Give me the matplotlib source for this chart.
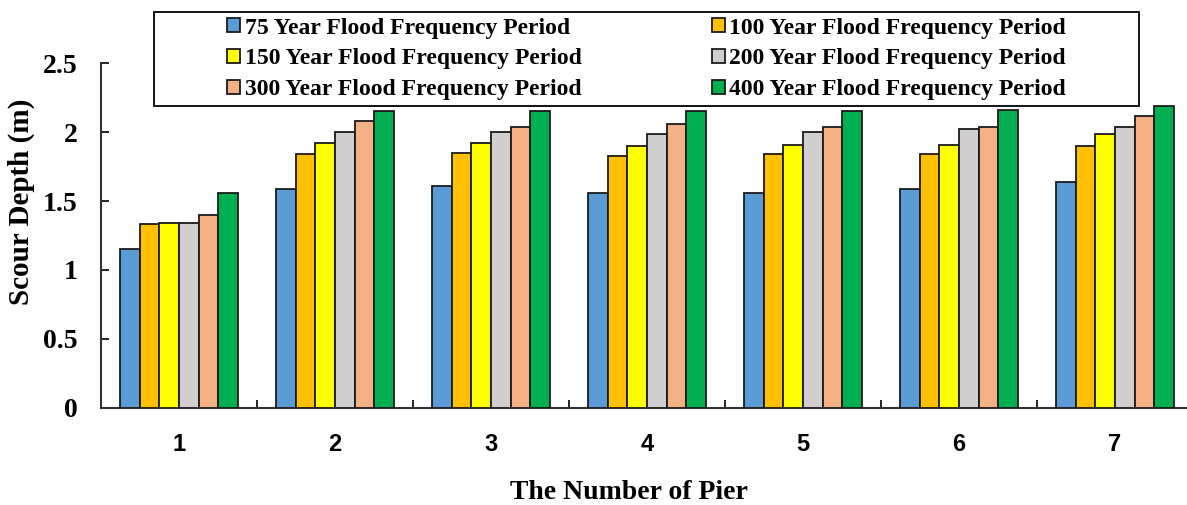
import numpy as np
import matplotlib
matplotlib.use('Agg')
import matplotlib.pyplot as plt
from matplotlib.patches import Rectangle

# pier numbers and scour depth (m) per flood frequency period
piers = ['1', '2', '3', '4', '5', '6', '7']
series_names = ['75 Year Flood Frequency Period', '100 Year Flood Frequency Period',
                '150 Year Flood Frequency Period', '200 Year Flood Frequency Period',
                '300 Year Flood Frequency Period', '400 Year Flood Frequency Period']
y75 = [1.15, 1.59, 1.61, 1.56, 1.56, 1.59, 1.64]
y100 = [1.33, 1.84, 1.85, 1.83, 1.84, 1.84, 1.90]
y150 = [1.34, 1.92, 1.92, 1.90, 1.91, 1.91, 1.99]
y200 = [1.34, 2.00, 2.00, 1.99, 2.00, 2.02, 2.04]
y300 = [1.40, 2.08, 2.04, 2.06, 2.04, 2.04, 2.12]
y400 = [1.56, 2.15, 2.15, 2.15, 2.15, 2.16, 2.19]
colors = ['#5B9BD5', '#FFC000', '#FFFF00', '#D0CECE', '#F4B183', '#00B050']

all_series = [y75, y100, y150, y200, y300, y400]

fig = plt.figure(figsize=(11.87, 5.05), dpi=100)
ax = fig.add_axes([0.0851, 0.1927, 0.920, 0.682])

x = np.arange(len(piers))
w = 0.1254
bars = []
for i, (vals, name, c) in enumerate(zip(all_series, series_names, colors)):
    b = ax.bar(x + (i - 2.5) * w, vals, w, color=c, edgecolor='#1a1a1a',
               linewidth=1.3, label=name, zorder=3)
    bars.append(b)

ax.set_xlim(-0.5, len(piers) - 0.5)
ax.set_ylim(0, 2.5)
ax.set_yticks([0, 0.5, 1, 1.5, 2, 2.5])
ax.set_yticklabels(['0', '0.5', '1', '1.5', '2', '2.5'],
                   fontfamily='Liberation Serif', fontweight='bold', fontsize=20)
ax.set_xticks(x)
ax.set_xticklabels(piers, fontfamily='Liberation Sans', fontweight='bold', fontsize=17)
ax.set_xticks(np.arange(-0.5, len(piers)), minor=True)
ax.tick_params(axis='x', which='major', length=0, pad=18)
ax.tick_params(axis='x', which='minor', direction='in', length=6, width=1.2)
ax.tick_params(axis='y', direction='in', length=6, width=1.2, pad=17)

for s in ['top', 'right']:
    ax.spines[s].set_visible(False)
for s in ['left', 'bottom']:
    ax.spines[s].set_linewidth(1.5)
    ax.spines[s].set_color('#333333')

ax.set_ylabel('Scour Depth (m)', fontfamily='Liberation Serif', fontweight='bold',
              fontsize=21)
ax.yaxis.set_label_coords(-0.0604, 0.597)
ax.set_xlabel('The Number of Pier', fontfamily='Liberation Serif', fontweight='bold',
              fontsize=20)
ax.xaxis.set_label_coords(0.4835, -0.209)

# legend box (frame drawn separately so the columns sit centred in it)
fig.patches.append(Rectangle((0.1297, 0.790), 0.8299, 0.186, transform=fig.transFigure,
                             fill=False, edgecolor='black', linewidth=1.3))
# row-wise order: 75/100, 150/200, 300/400
order = [0, 2, 4, 1, 3, 5]
leg = fig.legend([bars[k] for k in order], [series_names[k] for k in order],
                 loc='center', bbox_to_anchor=(0.5447, 0.8832), ncol=2, frameon=False,
                 handlelength=0.55, handleheight=0.55, handletextpad=0.2,
                 borderaxespad=0, borderpad=0, labelspacing=0.42, columnspacing=5.5,
                 prop={'family': 'Liberation Serif', 'weight': 'bold', 'size': 17})

fig.savefig('out.png', dpi=100)
